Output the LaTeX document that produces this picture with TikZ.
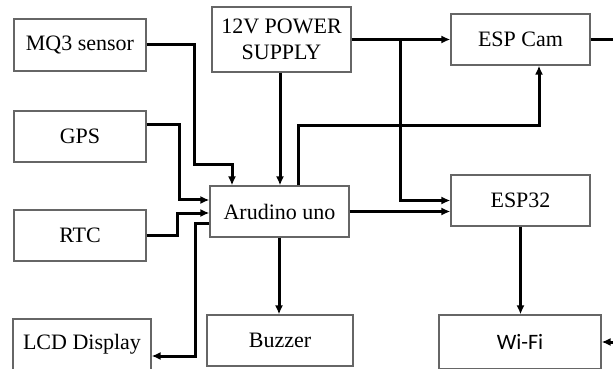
\documentclass[tikz,border=0pt]{standalone}
\usepackage{fontspec}
\setmainfont{Liberation Serif}
\newfontfamily\wififont{Carlito}
\usetikzlibrary{arrows.meta,calc}
\begin{document}
\begin{tikzpicture}[x=0.5pt,y=-0.5pt,
  box/.style={draw=black!60, line width=0.6pt, fill=white, inner sep=0pt,
    font=\fontsize{11}{13}\selectfont, align=center},
  conn/.style={line width=1.5pt, -{Latex[length=4.5pt,width=4pt]}}]
\useasboundingbox (0,0) rectangle (613,368);
\clip (0,0) rectangle (613,368);
% boxes
\node[box,minimum width=66pt,minimum height=26pt] (mq3) at (80,45) {MQ3 sensor};
\node[box,minimum width=66pt,minimum height=25.5pt] (gps) at (80,136.5) {GPS};
\node[box,minimum width=66pt,minimum height=25.5pt] (rtc) at (80,235.5) {RTC};
\node[box,minimum width=69pt,minimum height=25.5pt] (lcd) at (82,344.5) {LCD Display};
\node[box,minimum width=69.5pt,minimum height=32.5pt] (power) at (281.5,39.5) {12V POWER\\SUPPLY};
\node[box,minimum width=69.5pt,minimum height=25.5pt] (ard) at (279.5,211.5) {Arudino uno};
\node[box,minimum width=73pt,minimum height=25.5pt] (buzzer) at (280,340.5) {Buzzer};
\node[box,minimum width=69.5pt,minimum height=25.5pt] (espcam) at (520.5,39.5) {ESP Cam};
\node[box,minimum width=69.5pt,minimum height=25.5pt] (esp32) at (520.5,200.5) {ESP32};
\node[box,minimum width=81pt,minimum height=27pt,font=\wififont\fontsize{11}{13}\selectfont] (wifi) at (520,342) {Wi-Fi};
% helper coordinates
\coordinate (c1) at (194,165);
\coordinate (x232) at (232,0);
\coordinate (x280) at (280,0);
\coordinate (x298) at (298,0);
\coordinate (c2) at (539,126);
\coordinate (x400) at (400,0);
\coordinate (y125) at (0,125);
\coordinate (k1) at (179,200);
\coordinate (k2) at (177,213);
\coordinate (k3) at (195,223);
\coordinate (k4) at (195,356);
\coordinate (x279) at (279,0);
\coordinate (far) at (640,39.5);
% connectors
\draw[conn] (mq3.east) -| (c1) -| (ard.north -| x232);
\draw[conn] (power.south -| x280) -- (ard.north -| x280);
\draw[conn] (ard.north -| x298) |- (c2) -- (espcam.south -| c2);
\draw[conn] (power.east) -- (espcam.west);
\draw[conn] (power.east -| x400) |- (esp32.west);
\draw[conn] (espcam.east) -- (far) |- (wifi.east);
\draw[conn] (gps.east |- y125) -| (k1) -- (ard.west |- k1);
\draw[conn] (rtc.east) -| (k2) -- (ard.west |- k2);
\draw[conn] (ard.west |- k3) -- (k3) -- (k4) -- (lcd.east |- k4);
\draw[conn] (ard.south -| x279) -- (buzzer.north -| x279);
\draw[conn] (ard.east) -- (esp32.west |- ard.east);
\draw[conn] (esp32.south) -- (esp32.south |- wifi.north);
\end{tikzpicture}
\end{document}
